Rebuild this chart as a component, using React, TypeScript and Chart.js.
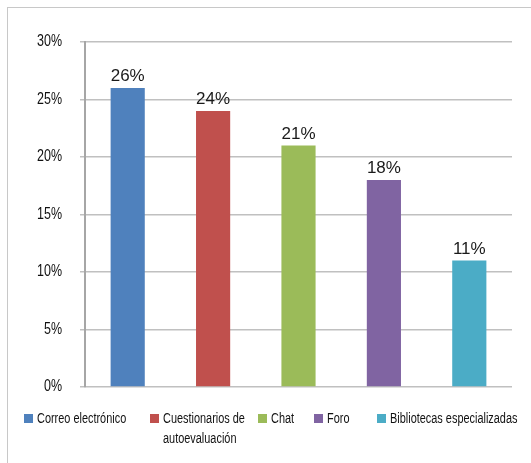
import React, { useEffect, useRef } from "react";
import { Chart, registerables } from "chart.js";

Chart.register(...registerables);

const categories = [
  "Correo electrónico",
  "Cuestionarios de autoevaluación",
  "Chat",
  "Foro",
  "Bibliotecas especializadas",
];
const values = [26, 24, 21, 18, 11];
const colors = ["#4F81BD", "#C0504D", "#9BBB59", "#8064A2", "#4BACC6"];
const yMin = 0;
const yMax = 30;
const yStep = 5;

const legendLefts = [24, 150, 258, 314, 377];

const W = 531;
const H = 463;
const NARROW = 0.78;

export default function App() {
  const ref = useRef<HTMLCanvasElement | null>(null);

  useEffect(() => {
    if (!ref.current) return;
    const framePlugin = {
      id: "frame",
      beforeDraw(chart: any) {
        const ctx = chart.ctx;
        ctx.save();
        ctx.fillStyle = "#ffffff";
        ctx.fillRect(0, 0, chart.width, chart.height);
        ctx.strokeStyle = "#c8c8c8";
        ctx.lineWidth = 1;
        ctx.strokeRect(7.5, 7.5, chart.width + 20, chart.height + 20);
        ctx.restore();
      },
    };
    const labelPlugin = {
      id: "valueLabels",
      afterDatasetsDraw(chart: any) {
        const ctx = chart.ctx;
        const meta = chart.getDatasetMeta(0);
        ctx.save();
        ctx.font = '17px "Liberation Sans", Arial, sans-serif';
        ctx.fillStyle = "#1a1a1a";
        ctx.textAlign = "center";
        ctx.textBaseline = "alphabetic";
        meta.data.forEach((bar: any, i: number) => {
          ctx.fillText(values[i] + "%", bar.x, bar.y - 7);
        });
        ctx.restore();
      },
      afterDraw(chart: any) {
        // narrow (condensed) rendering of the y tick labels at the scale's own positions
        const ctx = chart.ctx;
        const ys = chart.scales.y;
        const right = ys.right - 5 - 18;
        ctx.save();
        ctx.font = '16px "Liberation Sans", Arial, sans-serif';
        ctx.fillStyle = "#111111";
        ctx.textAlign = "right";
        ctx.textBaseline = "middle";
        ys.ticks.forEach((t: any) => {
          const y = ys.getPixelForValue(t.value);
          ctx.save();
          ctx.translate(right, y);
          ctx.scale(NARROW, 1);
          ctx.fillText(t.label, 0, 0);
          ctx.restore();
        });
        ctx.restore();
      },
    };
    const chart = new Chart(ref.current, {
      type: "bar",
      data: {
        labels: categories,
        datasets: [
          {
            data: values,
            backgroundColor: colors,
            borderWidth: 0,
            barPercentage: 0.4,
            categoryPercentage: 1,
          },
        ],
      },
      options: {
        responsive: false,
        animation: false,
        devicePixelRatio: 1,
        layout: { padding: { top: 42, right: 19, left: 0, bottom: 0 } },
        plugins: {
          legend: { display: false },
          tooltip: { enabled: false },
        },
        scales: {
          x: {
            grid: { display: false },
            border: { display: false },
            ticks: { display: false },
            afterFit(s: any) {
              s.height = H - 387;
            },
          },
          y: {
            min: yMin,
            max: yMax,
            ticks: {
              stepSize: yStep,
              padding: 18,
              color: "rgba(0,0,0,0)",
              font: { family: '"Liberation Sans", Arial, sans-serif', size: 16 },
              callback: (v: any) => v + "%",
            },
            grid: { color: "#c0c0c0", lineWidth: 1.5, tickLength: 5 },
            border: { display: true, color: "#a6a6a6", width: 2 },
            afterFit(s: any) {
              s.width = 85;
            },
          },
        },
      },
      plugins: [framePlugin, labelPlugin],
    });
    return () => chart.destroy();
  }, []);

  return (
    <div style={{ position: "absolute", left: 0, top: 0, width: W, height: H, overflow: "hidden" }}>
      <canvas ref={ref} width={W} height={H} style={{ width: W, height: H, display: "block" }} />
      {categories.map((c, i) => (
        <div
          key={c}
          style={{
            position: "absolute",
            left: legendLefts[i],
            top: 408,
            display: "flex",
            alignItems: "flex-start",
            fontFamily: '"Liberation Sans", Arial, sans-serif',
            fontSize: 14,
            lineHeight: "20px",
            color: "#111",
          }}
        >
          <span
            style={{
              display: "inline-block",
              width: 9,
              height: 9,
              background: colors[i],
              marginTop: 6,
              marginRight: 4,
              flex: "none",
            }}
          />
          <span
            style={{
              display: "inline-block",
              width: i === 1 ? 112 : 220,
              transform: `scaleX(${NARROW})`,
              transformOrigin: "left top",
              whiteSpace: "normal",
            }}
          >
            {c}
          </span>
        </div>
      ))}
    </div>
  );
}
